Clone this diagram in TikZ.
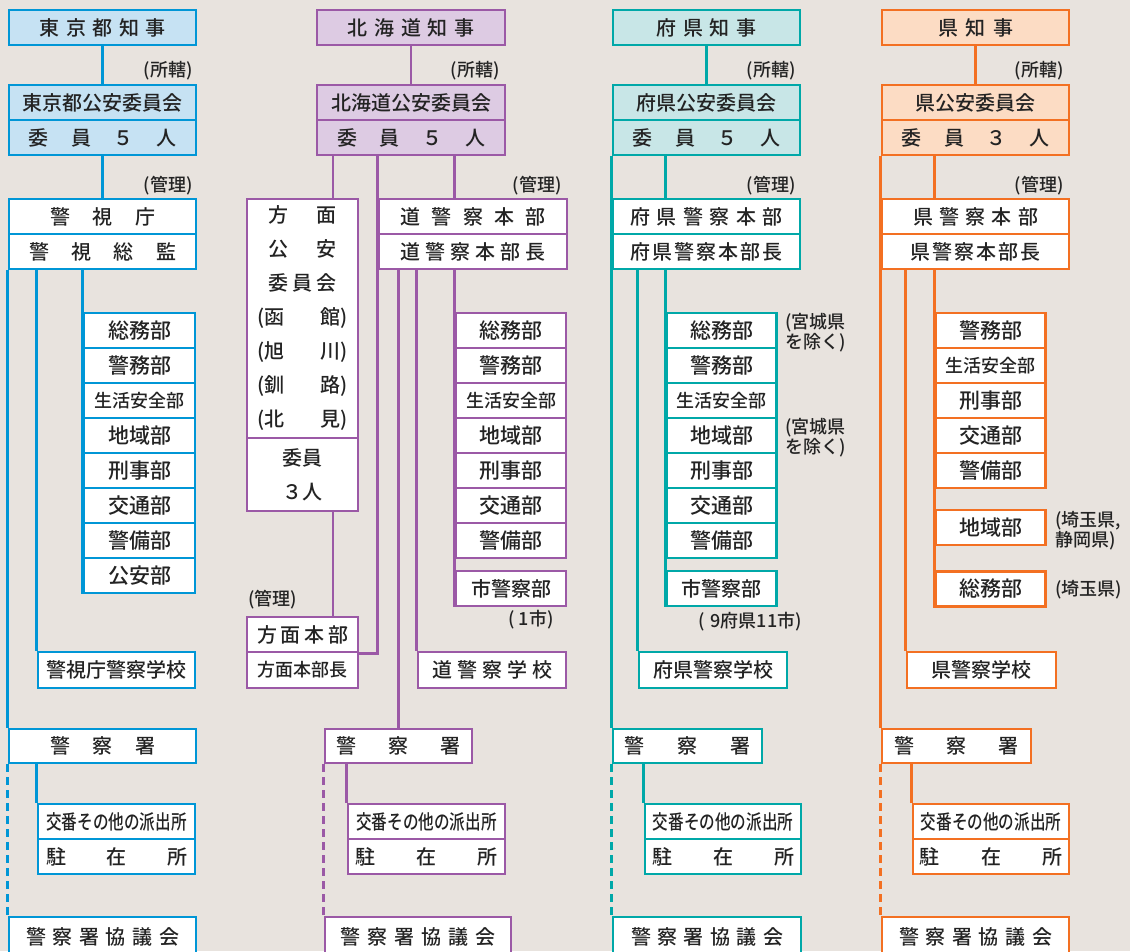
\documentclass[tikz,border=0pt]{standalone}
\usepackage{fontspec}
\setmainfont{Noto Sans CJK JP}[UprightFont=* Medium]
\definecolor{bg}{HTML}{E8E3DE}
\definecolor{ink}{HTML}{232323}
\definecolor{tokyo}{HTML}{0096D6}
\definecolor{tokyofill}{HTML}{C6E2F3}
\definecolor{hokkaido}{HTML}{9B59A6}
\definecolor{hokkaidofill}{HTML}{DDCBE3}
\definecolor{fuken}{HTML}{00A8A8}
\definecolor{fukenfill}{HTML}{C8E6E7}
\definecolor{ken}{HTML}{F37022}
\definecolor{kenfill}{HTML}{FCDCC4}
\newcommand{\fsz}[1]{\fontsize{#1}{#1}\selectfont}
\newcommand{\spread}[2]{\makebox[#1][s]{#2}}
\newcommand{\koban}{\scalebox{0.78}[1]{\fsz{20}交番その他の派出所}}
\tikzset{
  org/.style={rectangle,draw=#1,line width=2.8pt,fill=white,inner sep=0pt,minimum height=35pt,text=ink,font=\fsz{20}},
  head/.style={org=#1,fill=#1fill},
  dept/.style={org=#1,minimum width=110pt,font=\fsz{21}},
  link/.style={draw=#1,line width=2.8pt},
  council/.style={link=#1,dash pattern=on 8pt off 5pt},
  note/.style={font=\fsz{18},text=ink,inner sep=0pt,align=left}
}

\begin{document}
\begin{tikzpicture}[x=1pt,y=-1pt]
  \useasboundingbox (0,0) rectangle (1130,951);
  \fill[bg] (0,0) rectangle (1130,951);

  % 東京都
  \node[head=tokyo,minimum width=187pt] (tk-gov) at (102.5,27.5) {\spread{126pt}{東\hfill 京\hfill 都\hfill 知\hfill 事}};
  \node[head=tokyo,minimum width=187pt] (tk-com) at (102.5,102.5) {東京都公安委員会};
  \node[head=tokyo,minimum width=187pt] (tk-mem) at (102.5,137.5) {\spread{148pt}{委\hfill 員\hfill ５\hfill 人}};
  \node[org=tokyo,minimum width=187pt] (tk-hq) at (102.5,216.5) {\spread{105pt}{警\hfill 視\hfill 庁}};
  \node[org=tokyo,minimum width=187pt] (tk-chief) at (102.5,251.5) {\spread{147pt}{警\hfill 視\hfill 総\hfill 監}};
  \foreach \d [count=\i] in {総務部,警務部,{\fsz{18}生活安全部},地域部,刑事部,交通部,警備部,公安部}
    \node[dept=tokyo,minimum width=111pt] (tk-d\i) at (139.5,295.5+35*\i) {\d};
  \node[org=tokyo,minimum width=157pt,minimum height=36pt] (tk-sch) at (116.5,670) {警視庁警察学校};
  \node[org=tokyo,minimum width=187pt,minimum height=34pt] (tk-sta) at (102.5,746) {\spread{105pt}{警\hfill 察\hfill 署}};
  \node[org=tokyo,minimum width=157pt] (tk-kb) at (116.5,821.5) {\koban};
  \node[org=tokyo,minimum width=157pt] (tk-cz) at (116.5,856.5) {\spread{141pt}{駐\hfill 在\hfill 所}};
  \node[org=tokyo,minimum width=187pt,minimum height=40pt] (tk-cnl) at (102.5,937) {\spread{153pt}{警\hfill 察\hfill 署\hfill 協\hfill 議\hfill 会}};
  \node[note,anchor=east] (tk-n1) at (193,71) {(所轄)};
  \node[note,anchor=east] (tk-n2) at (193,186) {(管理)};
  \draw[link=tokyo] (tk-gov) -- (tk-com);
  \draw[link=tokyo] (tk-mem) -- (tk-hq);
  \draw[link=tokyo] (tk-chief.south west) -- (tk-sta.north west);
  \draw[link=tokyo] (tk-d1.west |- tk-chief.south) -- (tk-d8.south west);
  \draw[link=tokyo] (tk-sch.north west |- tk-chief.south) -- (tk-sch.north west);
  \draw[link=tokyo] (tk-kb.north west |- tk-sta.south) -- (tk-kb.north west);
  \draw[council=tokyo] (tk-sta.south west) -- (tk-cnl.north west);

  % 北海道
  \node[head=hokkaido,minimum width=188pt] (hk-gov) at (411,27.5) {\spread{127pt}{北\hfill 海\hfill 道\hfill 知\hfill 事}};
  \node[head=hokkaido,minimum width=188pt] (hk-com) at (411,102.5) {北海道公安委員会};
  \node[head=hokkaido,minimum width=188pt] (hk-mem) at (411,137.5) {\spread{148pt}{委\hfill 員\hfill ５\hfill 人}};
  \node[org=hokkaido,minimum width=111pt,minimum height=239pt,align=center,font=\fontsize{20}{34}\selectfont] (hk-area) at (302.5,318.5)
    {\spread{69pt}{方\hfill 面}\\\spread{69pt}{公\hfill 安}\\\spread{69pt}{委\hfill 員\hfill 会}\\\spread{91pt}{(函\hfill 館)}\\\spread{91pt}{(旭\hfill 川)}\\\spread{91pt}{(釧\hfill 路)}\\\spread{91pt}{(北\hfill 見)}};
  \node[org=hokkaido,minimum width=111pt,minimum height=73pt,align=center,font=\fontsize{20}{34}\selectfont] (hk-amem) at (302.5,474.5) {委員\\３人};
  \node[org=hokkaido,minimum width=111pt] (hk-ahq) at (302.5,634.5) {\spread{91pt}{方\hfill 面\hfill 本\hfill 部}};
  \node[org=hokkaido,minimum width=111pt,minimum height=36pt] (hk-achief) at (302.5,670) {\fsz{18}方面本部長};
  \node[org=hokkaido,minimum width=188pt] (hk-hq) at (473,216.5) {\spread{145pt}{道\hfill 警\hfill 察\hfill 本\hfill 部}};
  \node[org=hokkaido,minimum width=188pt] (hk-chief) at (473,251.5) {\spread{145pt}{道\hfill 警\hfill 察\hfill 本\hfill 部\hfill 長}};
  \foreach \d [count=\i] in {総務部,警務部,{\fsz{18}生活安全部},地域部,刑事部,交通部,警備部}
    \node[dept=hokkaido] (hk-d\i) at (511,295.5+35*\i) {\d};
  \node[dept=hokkaido,font=\fsz{20}] (hk-city) at (511,588.5) {市警察部};
  \node[org=hokkaido,minimum width=148pt,minimum height=36pt] (hk-sch) at (492,670) {\spread{120pt}{道\hfill 警\hfill 察\hfill 学\hfill 校}};
  \node[org=hokkaido,minimum width=147pt,minimum height=34pt] (hk-sta) at (398.5,746) {\spread{124pt}{警\hfill 察\hfill 署}};
  \node[org=hokkaido,minimum width=157pt] (hk-kb) at (426.5,821.5) {\koban};
  \node[org=hokkaido,minimum width=157pt] (hk-cz) at (426.5,856.5) {\spread{142pt}{駐\hfill 在\hfill 所}};
  \node[org=hokkaido,minimum width=186pt,minimum height=40pt] (hk-cnl) at (418,937) {\spread{155pt}{警\hfill 察\hfill 署\hfill 協\hfill 議\hfill 会}};
  \coordinate (hk-aline) at (333,199);
  \node[note,anchor=east] (hk-n1) at (500,71) {(所轄)};
  \node[note,anchor=east] (hk-n2) at (562,186) {(管理)};
  \node[note,anchor=west] (hk-n3) at (248,600) {(管理)};
  \node[note] (hk-n4) at (531,620) {(\hspace{4pt}1市)};
  \draw[link=hokkaido] (hk-gov) -- (hk-com);
  \draw[link=hokkaido] (hk-aline |- hk-mem.south) -- (hk-aline |- hk-area.north);
  \draw[link=hokkaido] (hk-aline |- hk-amem.south) -- (hk-aline |- hk-ahq.north);
  \draw[link=hokkaido] (hk-hq.north west |- hk-mem.south) -- (hk-hq.north west |- hk-ahq.south east) -- (hk-ahq.south east);
  \draw[link=hokkaido] (hk-d1.west |- hk-mem.south) -- (hk-d1.west |- hk-hq.north);
  \draw[link=hokkaido] (hk-d1.west |- hk-chief.south) -- (hk-city.south west);
  \draw[link=hokkaido] (hk-sch.north west |- hk-chief.south) -- (hk-sch.north west);
  \draw[link=hokkaido] (hk-sta.north |- hk-chief.south) -- (hk-sta.north);
  \draw[link=hokkaido] (hk-kb.north west |- hk-sta.south) -- (hk-kb.north west);
  \draw[council=hokkaido] (hk-sta.south west) -- (hk-cnl.north west);

  % 府県
  \node[head=fuken,minimum width=187pt] (tf-gov) at (706.5,27.5) {\spread{100pt}{府\hfill 県\hfill 知\hfill 事}};
  \node[head=fuken,minimum width=187pt] (tf-com) at (706.5,102.5) {府県公安委員会};
  \node[head=fuken,minimum width=187pt] (tf-mem) at (706.5,137.5) {\spread{148pt}{委\hfill 員\hfill ５\hfill 人}};
  \node[org=fuken,minimum width=187pt] (tf-hq) at (706.5,216.5) {\spread{152pt}{府\hfill 県\hfill 警\hfill 察\hfill 本\hfill 部}};
  \node[org=fuken,minimum width=187pt] (tf-chief) at (706.5,251.5) {\spread{152pt}{府\hfill 県\hfill 警\hfill 察\hfill 本\hfill 部\hfill 長}};
  \foreach \d [count=\i] in {総務部,警務部,{\fsz{18}生活安全部},地域部,刑事部,交通部,警備部}
    \node[dept=fuken] (tf-d\i) at (721.5,295.5+35*\i) {\d};
  \node[dept=fuken,font=\fsz{20}] (tf-city) at (721.5,588.5) {市警察部};
  \node[org=fuken,minimum width=148pt,minimum height=36pt] (tf-sch) at (713,670) {府県警察学校};
  \node[org=fuken,minimum width=149pt,minimum height=34pt] (tf-sta) at (687.5,746) {\spread{126pt}{警\hfill 察\hfill 署}};
  \node[org=fuken,minimum width=156pt] (tf-kb) at (723,821.5) {\koban};
  \node[org=fuken,minimum width=156pt] (tf-cz) at (723,856.5) {\spread{142pt}{駐\hfill 在\hfill 所}};
  \node[org=fuken,minimum width=188pt,minimum height=40pt] (tf-cnl) at (707,937) {\spread{152pt}{警\hfill 察\hfill 署\hfill 協\hfill 議\hfill 会}};
  \node[note,anchor=east] (tf-n1) at (796,71) {(所轄)};
  \node[note,anchor=east] (tf-n2) at (796,186) {(管理)};
  \node[note,anchor=west] (tf-n3) at (785,333) {(宮城県\\を除く)};
  \node[note,anchor=west] (tf-n4) at (785,438) {(宮城県\\を除く)};
  \node[note] (tf-n5) at (750,622) {(\hspace{6pt}9府県11市)};
  \draw[link=fuken] (tf-gov) -- (tf-com);
  \draw[link=fuken] (tf-mem.south west) -- (tf-sta.north west);
  \draw[link=fuken] (tf-d1.west |- tf-mem.south) -- (tf-d1.west |- tf-hq.north);
  \draw[link=fuken] (tf-d1.west |- tf-chief.south) -- (tf-city.south west);
  \draw[link=fuken] (tf-sch.north west |- tf-chief.south) -- (tf-sch.north west);
  \draw[link=fuken] (tf-kb.north west |- tf-sta.south) -- (tf-kb.north west);
  \draw[council=fuken] (tf-sta.south west) -- (tf-cnl.north west);

  % 県
  \node[head=ken,minimum width=187pt] (kn-gov) at (975.5,27.5) {\spread{75pt}{県\hfill 知\hfill 事}};
  \node[head=ken,minimum width=187pt] (kn-com) at (975.5,102.5) {県公安委員会};
  \node[head=ken,minimum width=187pt] (kn-mem) at (975.5,137.5) {\spread{148pt}{委\hfill 員\hfill ３\hfill 人}};
  \node[org=ken,minimum width=187pt] (kn-hq) at (975.5,216.5) {\spread{125pt}{県\hfill 警\hfill 察\hfill 本\hfill 部}};
  \node[org=ken,minimum width=187pt] (kn-chief) at (975.5,251.5) {\spread{130pt}{県\hfill 警\hfill 察\hfill 本\hfill 部\hfill 長}};
  \foreach \d [count=\i] in {警務部,{\fsz{18}生活安全部},刑事部,交通部,警備部}
    \node[dept=ken] (kn-d\i) at (990.5,295.5+35*\i) {\d};
  \node[dept=ken] (kn-chiiki) at (990.5,527.5) {地域部};
  \node[dept=ken] (kn-somu) at (990.5,589) {総務部};
  \node[org=ken,minimum width=149pt,minimum height=36pt] (kn-sch) at (981.5,670) {県警察学校};
  \node[org=ken,minimum width=149pt,minimum height=34pt] (kn-sta) at (956.5,746) {\spread{124pt}{警\hfill 察\hfill 署}};
  \node[org=ken,minimum width=156pt] (kn-kb) at (991,821.5) {\koban};
  \node[org=ken,minimum width=156pt] (kn-cz) at (991,856.5) {\spread{143pt}{駐\hfill 在\hfill 所}};
  \node[org=ken,minimum width=187pt,minimum height=40pt] (kn-cnl) at (975.5,937) {\spread{153pt}{警\hfill 察\hfill 署\hfill 協\hfill 議\hfill 会}};
  \node[note,anchor=east] (kn-n1) at (1064,71) {(所轄)};
  \node[note,anchor=east] (kn-n2) at (1064,186) {(管理)};
  \node[note,anchor=west] (kn-n3) at (1055,531) {(埼玉県,\\静岡県)};
  \node[note,anchor=west] (kn-n4) at (1055,590) {(埼玉県)};
  \draw[link=ken] (kn-gov) -- (kn-com);
  \draw[link=ken] (kn-mem.south west) -- (kn-sta.north west);
  \draw[link=ken] (kn-d1.west |- kn-mem.south) -- (kn-d1.west |- kn-hq.north);
  \draw[link=ken] (kn-d1.west |- kn-chief.south) -- (kn-somu.south west);
  \draw[link=ken] (kn-sch.north west |- kn-chief.south) -- (kn-sch.north west);
  \draw[link=ken] (kn-kb.north west |- kn-sta.south) -- (kn-kb.north west);
  \draw[council=ken] (kn-sta.south west) -- (kn-cnl.north west);
\end{tikzpicture}
\end{document}
